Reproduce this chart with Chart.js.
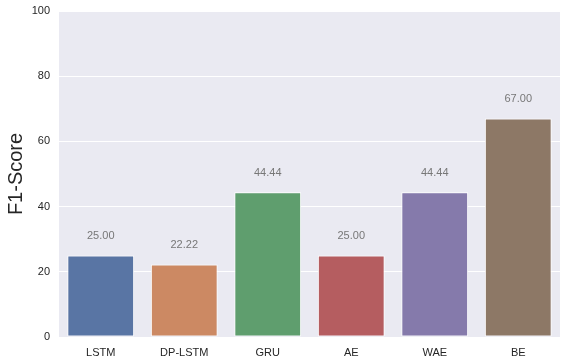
<!DOCTYPE html>
<html>
<head>
<meta charset="utf-8">
<script src="https://cdn.jsdelivr.net/npm/chart.js@4"></script>
<style>
  html, body { margin: 0; padding: 0; background: #fff; }
  #wrap { width: 567px; height: 364px; }
</style>
</head>
<body>
<div id="wrap"><canvas id="f1Chart"></canvas></div>
<script>
const modelos = ['LSTM', 'DP-LSTM', 'GRU', 'AE', 'WAE', 'BE'];
const f1Scores = [25.00, 22.22, 44.44, 25.00, 44.44, 67.00];
const colores = ['#5975a4', '#cc8963', '#5f9e6e', '#b55d60', '#857aab', '#8d7866'];
const yTicks = [0, 20, 40, 60, 80, 100];

// etiquetas encima de cada barra
const etiquetas = {
    id: 'etiquetas',
    afterDatasetsDraw(chart) {
        const { ctx, scales: { x, y } } = chart;
        ctx.save();
        ctx.font = '11px "Liberation Sans", Arial, sans-serif';
        ctx.fillStyle = '#777777';
        ctx.textAlign = 'center';
        ctx.textBaseline = 'alphabetic';
        f1Scores.forEach((v, i) => {
            ctx.fillText(v.toFixed(2), x.getPixelForValue(i), y.getPixelForValue(v + 5));
        });
        ctx.restore();
    }
};

// fondo gris del área del gráfico
const fondo = {
    id: 'fondo',
    beforeDraw(chart) {
        const { ctx, chartArea: a } = chart;
        ctx.save();
        ctx.fillStyle = '#eaeaf2';
        ctx.fillRect(a.left, a.top, a.right - a.left, a.bottom - a.top);
        ctx.restore();
    }
};

new Chart(document.getElementById('f1Chart').getContext('2d'), {
    type: 'bar',
    data: {
        labels: modelos,
        datasets: [{
            data: f1Scores,
            backgroundColor: colores,
            borderColor: '#ffffff',
            borderWidth: 1,
            borderSkipped: false,
            categoryPercentage: 1,
            barPercentage: 0.8
        }]
    },
    options: {
        responsive: true,
        maintainAspectRatio: false,
        animation: false,
        layout: { padding: { top: 11, right: 7, left: 0, bottom: 0 } },
        plugins: { legend: { display: false }, tooltip: { enabled: false } },
        scales: {
            x: {
                grid: { display: false, drawTicks: false },
                border: { display: false },
                ticks: {
                    color: '#262626',
                    font: { size: 11, family: '"Liberation Sans", Arial, sans-serif' },
                    padding: 9
                },
                afterFit(s) { s.height = 27; }
            },
            y: {
                min: 0,
                max: 100,
                afterBuildTicks(s) { s.ticks = yTicks.map(v => ({ value: v })); },
                grid: { color: '#ffffff', lineWidth: 1, drawTicks: false },
                border: { display: false },
                ticks: {
                    color: '#262626',
                    font: { size: 11, family: '"Liberation Sans", Arial, sans-serif' },
                    padding: 9
                },
                title: {
                    display: true,
                    text: 'F1-Score',
                    color: '#262626',
                    font: { size: 20, family: '"Liberation Sans", Arial, sans-serif' },
                    padding: { top: 4, bottom: 2 }
                },
                afterFit(s) { s.width = 59; s.paddingTop = 0; s.paddingBottom = 0; }
            }
        }
    },
    plugins: [fondo, etiquetas]
});
</script>
</body>
</html>
